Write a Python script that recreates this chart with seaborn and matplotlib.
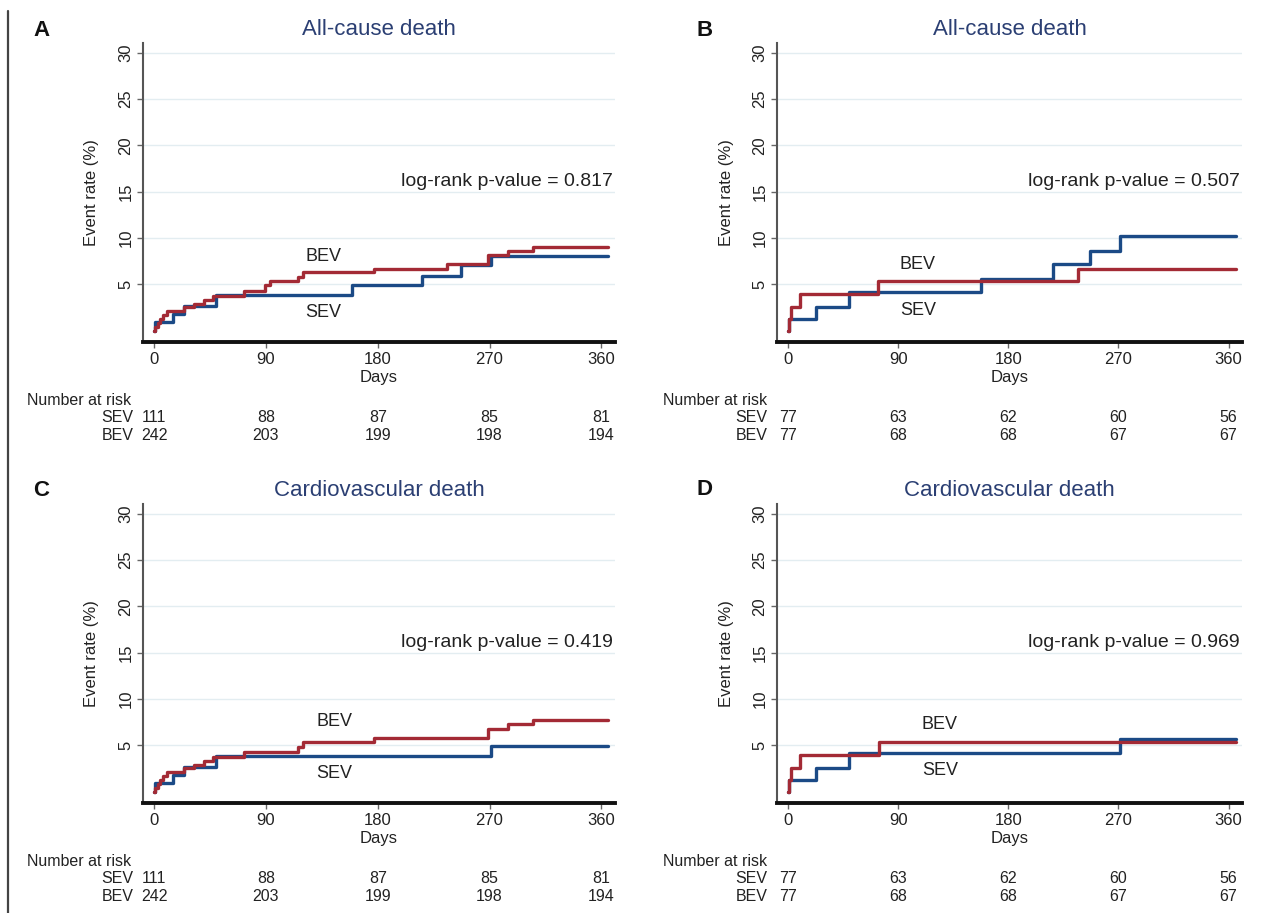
import matplotlib
matplotlib.use("Agg")
import matplotlib.pyplot as plt
import matplotlib.transforms as mtransforms
from matplotlib.lines import Line2D
import seaborn as sns

# data ----------------------------------------------------------------------
risk_days = [0, 90, 180, 270, 360]
y_ticks = [5, 10, 15, 20, 25, 30]

# A: all-cause death, full cohort
a_sev_days = [0, 0.5, 15, 24, 50, 159, 216, 247, 271, 365]
a_sev_rate = [0, 0.9, 1.8, 2.7, 3.8, 4.9, 5.9, 7.1, 8.1, 8.1]
a_bev_days = [0, 1, 3, 5, 7, 10, 24, 32, 40, 47, 72, 89, 93, 116, 120, 177, 236, 269, 285, 305, 365]
a_bev_rate = [0, 0.4, 0.8, 1.2, 1.7, 2.1, 2.5, 2.9, 3.3, 3.7, 4.3, 4.9, 5.3, 5.8, 6.3, 6.7, 7.2, 8.2, 8.6, 9.0, 9.0]
a_sev_risk = [111, 88, 87, 85, 81]
a_bev_risk = [242, 203, 199, 198, 194]

# B: all-cause death, matched
b_sev_days = [0, 0.5, 22.6, 49.6, 158, 216.6, 246.6, 271, 366]
b_sev_rate = [0, 1.3, 2.6, 4.2, 5.6, 7.2, 8.6, 10.2, 10.2]
b_bev_days = [0, 0.5, 2.7, 9.5, 73.6, 237, 366]
b_bev_rate = [0, 1.3, 2.6, 3.9, 5.3, 6.7, 6.7]
b_sev_risk = [77, 63, 62, 60, 56]
b_bev_risk = [77, 68, 68, 67, 67]

# C: cardiovascular death, full cohort
c_sev_days = [0, 0.5, 15, 24, 50, 271, 365]
c_sev_rate = [0, 0.9, 1.8, 2.7, 3.8, 4.9, 4.9]
c_bev_days = [0, 1, 3, 5, 7, 10, 24, 32, 40, 47, 72, 116, 120, 177, 269, 285, 305, 365]
c_bev_rate = [0, 0.4, 0.8, 1.2, 1.7, 2.1, 2.5, 2.9, 3.3, 3.7, 4.3, 4.8, 5.3, 5.8, 6.8, 7.3, 7.7, 7.7]

# D: cardiovascular death, matched
d_sev_days = [0, 0.5, 22.6, 49.6, 271, 366]
d_sev_rate = [0, 1.3, 2.6, 4.2, 5.7, 5.7]
d_bev_days = [0, 0.5, 2.7, 9.5, 74, 366]
d_bev_rate = [0, 1.3, 2.6, 3.9, 5.3, 5.3]

titles = ["All-cause death", "All-cause death", "Cardiovascular death", "Cardiovascular death"]
letters = ["A", "B", "C", "D"]
p_values = ["0.817", "0.507", "0.419", "0.969"]

panels = [
    (a_sev_days, a_sev_rate, a_bev_days, a_bev_rate, a_sev_risk, a_bev_risk),
    (b_sev_days, b_sev_rate, b_bev_days, b_bev_rate, b_sev_risk, b_bev_risk),
    (c_sev_days, c_sev_rate, c_bev_days, c_bev_rate, a_sev_risk, a_bev_risk),
    (d_sev_days, d_sev_rate, d_bev_days, d_bev_rate, b_sev_risk, b_bev_risk),
]

# layout (pixels) -------------------------------------------------------------
W, H = 1262, 913
ax_px = [(143, 43, 472, 299), (777, 43, 465, 299), (143, 504, 472, 299), (777, 504, 465, 299)]
letter_px = [(33, 30), (697, 30), (33, 491), (697, 489)]
label_pos = [((136, 8.05), (136, 1.9)), ((106, 7.1), (106, 2.2)),
             ((145, 7.6), (145, 2.0)), ((124, 7.2), (124, 2.3))]

sev_color = "#1b4a86"
bev_color = "#a32a35"
title_color = "#2b3f73"
text_color = "#222222"

sns.set_theme(style="white")
plt.rcParams['font.family'] = ['Liberation Sans', 'DejaVu Sans']

fig = plt.figure(figsize=(W / 100, H / 100), dpi=100)

for i, (sd, sr, bd, br, srisk, brisk) in enumerate(panels):
    l, t, w, h = ax_px[i]
    ax = fig.add_axes([l / W, 1 - (t + h) / H, w / W, h / H])

    sns.lineplot(x=sd, y=sr, ax=ax, color=sev_color, lw=2.4, drawstyle="steps-post",
                 estimator=None, sort=False, legend=False)
    sns.lineplot(x=bd, y=br, ax=ax, color=bev_color, lw=2.4, drawstyle="steps-post",
                 estimator=None, sort=False, legend=False)

    ax.set_xlim(-9, 371)
    ax.set_ylim(-1.23, 31.04)
    ax.set_xticks(risk_days)
    ax.set_yticks(y_ticks)
    for yt in y_ticks:
        ax.axhline(yt, color="#e3edf1", lw=1.0, zorder=0)

    for s in ["top", "right"]:
        ax.spines[s].set_visible(False)
    ax.spines["left"].set_color("#555555")
    ax.spines["left"].set_linewidth(1.5)
    ax.spines["bottom"].set_color("#111111")
    ax.spines["bottom"].set_linewidth(2.8)

    ax.tick_params(axis="both", which="major", direction="out", length=4, width=1,
                   color="#666666", labelsize=12, labelcolor=text_color, pad=3,
                   bottom=True, left=True)
    for lab in ax.get_yticklabels():
        lab.set_rotation(90)
        lab.set_va("center")

    ax.set_xlabel("Days", fontsize=12, color=text_color)
    ax.xaxis.set_label_coords(0.5, -0.092)
    ax.set_ylabel("Event rate (%)", fontsize=12, color=text_color)
    ax.yaxis.set_label_coords(-0.093, 0.5)

    ax.set_title(titles[i], fontsize=16, color=title_color, pad=6)

    fig.text(letter_px[i][0] / W, 1 - letter_px[i][1] / H, letters[i],
             fontsize=16, fontweight="bold", ha="left", va="center", color="#111111")

    ax.text(369, 16.1, f"log-rank p-value = {p_values[i]}", ha="right", va="center",
            fontsize=14, color=text_color)
    (bx, by), (sx, sy) = label_pos[i]
    ax.text(bx, by, "BEV", ha="center", va="center", fontsize=13, color=text_color)
    ax.text(sx, sy, "SEV", ha="center", va="center", fontsize=13, color=text_color)

    # number at risk table
    trans = mtransforms.blended_transform_factory(ax.transData, ax.transAxes)
    ax.text(-0.246, -0.194, "Number at risk", transform=ax.transAxes, ha="left",
            va="center", fontsize=11.5, color=text_color)
    for name, row, yy in [("SEV", srisk, -0.251), ("BEV", brisk, -0.314)]:
        ax.annotate(name, xy=(0, yy), xycoords=trans, xytext=(-15, 0),
                    textcoords="offset points", ha="right", va="center",
                    fontsize=11.5, color=text_color)
        for d, n in zip(risk_days, row):
            ax.text(d, yy, str(n), transform=trans, ha="center", va="center",
                    fontsize=11.5, color=text_color)

# left border line
fig.add_artist(Line2D([8 / W, 8 / W], [0, 1 - 11 / H], transform=fig.transFigure,
                      color="#444444", lw=1.6))

fig.savefig("out.png", dpi=100, facecolor="white")
